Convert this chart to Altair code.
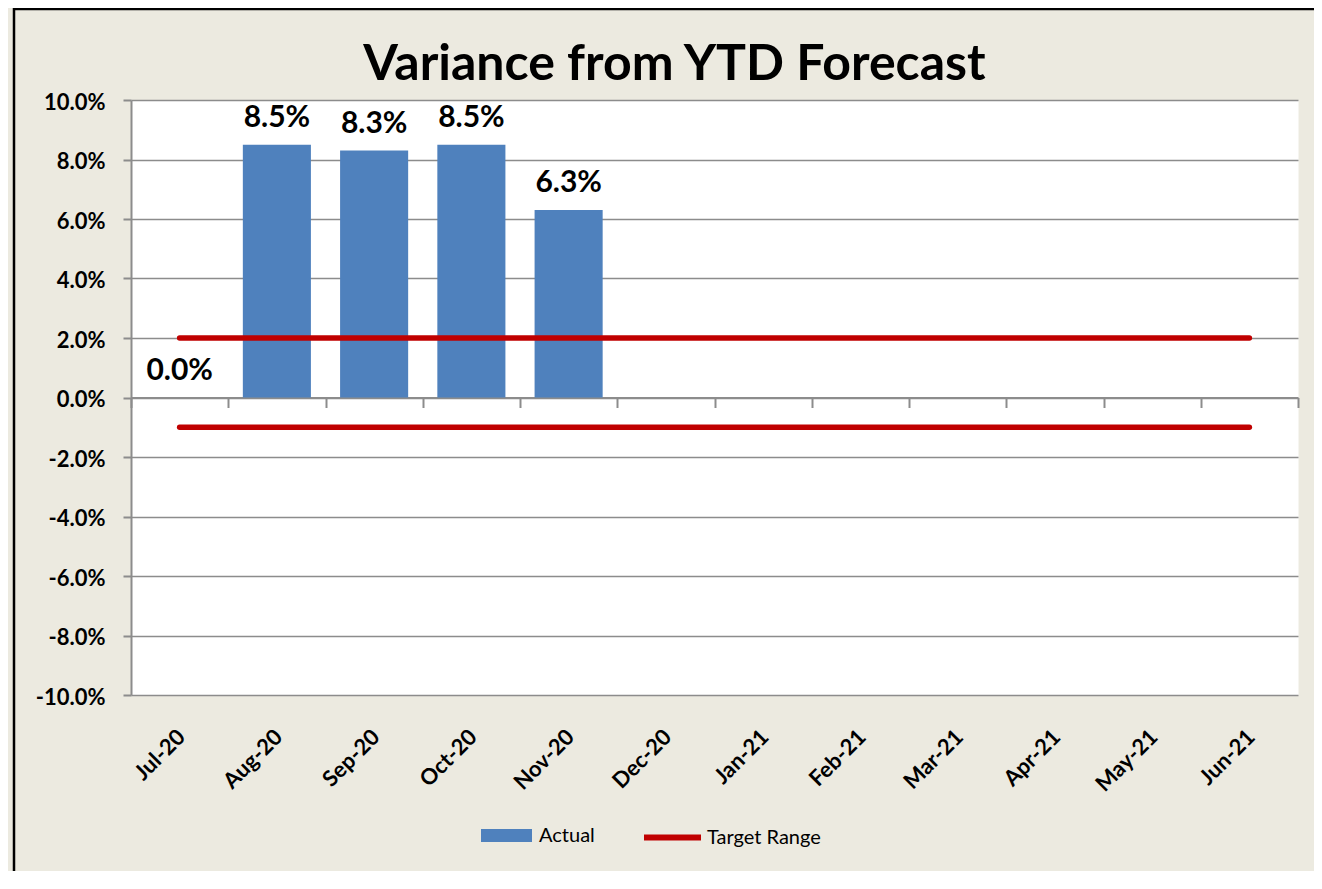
import altair as alt
import pandas as pd

# ---- data ----
months = ["Jul-20", "Aug-20", "Sep-20", "Oct-20", "Nov-20", "Dec-20",
          "Jan-21", "Feb-21", "Mar-21", "Apr-21", "May-21", "Jun-21"]
actual_months = ["Jul-20", "Aug-20", "Sep-20", "Oct-20", "Nov-20"]
actual_values = [0.000, 0.085, 0.083, 0.085, 0.063]
target_high = [0.02, 0.02, 0.02, 0.02, 0.02, 0.02, 0.02, 0.02, 0.02, 0.02, 0.02, 0.02]
target_low = [-0.01, -0.01, -0.01, -0.01, -0.01, -0.01, -0.01, -0.01, -0.01, -0.01, -0.01, -0.01]
y_ticks = [-0.10, -0.08, -0.06, -0.04, -0.02, 0.0, 0.02, 0.04, 0.06, 0.08, 0.10]

bars_df = pd.DataFrame({"month": actual_months, "value": actual_values, "series": "Actual"})
lines_df = pd.concat([
    pd.DataFrame({"month": months, "value": target_high, "bound": "high", "series": "Target Range"}),
    pd.DataFrame({"month": months, "value": target_low, "bound": "low", "series": "Target Range"}),
], ignore_index=True)

W, H = 1167, 595
GREY = "#8C8C8C"
FONT = "Lato"

xscale = alt.Scale(domain=months, paddingInner=0, paddingOuter=0)
yscale = alt.Scale(domain=[-0.10, 0.10], nice=False)
yaxis = alt.Axis(values=y_ticks, format=".1%", title=None, grid=True, gridColor=GREY,
                 gridWidth=1.6, domain=True, domainColor=GREY, domainWidth=2,
                 ticks=True, tickColor=GREY, tickWidth=2, tickSize=8,
                 labelFont=FONT, labelFontSize=22, labelFontWeight="bold",
                 labelColor="black", labelPadding=18, labelOffset=2,
                 labelExpr="replace(datum.label, '\u2212', '-')")

bars = alt.Chart(bars_df).mark_bar(color="#4F81BD", width=alt.RelativeBandSize(0.7)).encode(
    x=alt.X("month:N", scale=xscale, sort=months, title=None,
            axis=alt.Axis(orient="bottom", labelAngle=-45, labelAlign="right",
                          labelBaseline="middle", labelFont=FONT, labelFontSize=22,
                          labelFontWeight="bold", labelColor="black", labelPadding=38,
                          labelOffset=2, ticks=False, tickSize=0, domain=False,
                          grid=False, title=None)),
    y=alt.Y("value:Q", scale=yscale, axis=yaxis),
    color=alt.Color("series:N",
                    scale=alt.Scale(domain=["Actual"], range=["#4F81BD"]),
                    legend=alt.Legend(orient="none", legendX=350, legendY=710, title=None,
                                      symbolType="M-1,-0.255H1V0.255H-1Z", symbolSize=2601,
                                      symbolStrokeWidth=0, labelFont=FONT, labelFontSize=20,
                                      labelColor="black", labelOffset=7)),
)

lines = alt.Chart(lines_df).mark_line(strokeWidth=5.5, strokeCap="round").encode(
    x=alt.X("month:N", scale=xscale, sort=months, title=None,
            axis=alt.Axis(orient="bottom", offset=-H / 2, labels=False, ticks=True,
                          tickBand="extent", tickSize=10, tickColor=GREY, tickWidth=2,
                          domain=True, domainColor=GREY, domainWidth=2, grid=False,
                          title=None)),
    y=alt.Y("value:Q", scale=yscale, axis=yaxis),
    detail="bound:N",
    stroke=alt.Stroke("series:N",
                      scale=alt.Scale(domain=["Target Range"], range=["#C00000"]),
                      legend=alt.Legend(orient="none", legendX=510, legendY=706, title=None,
                                        symbolType="stroke", symbolSize=3249,
                                        symbolStrokeWidth=6, labelFont=FONT,
                                        labelFontSize=20, labelColor="black",
                                        labelOffset=3)),
)

labels = alt.Chart(bars_df).mark_text(font=FONT, fontSize=30, fontWeight="bold",
                                      color="black", baseline="alphabetic", dy=-18).encode(
    x=alt.X("month:N", scale=xscale, sort=months, axis=None),
    y=alt.Y("value:Q", scale=yscale, axis=yaxis),
    text=alt.Text("value:Q", format=".1%"),
)

frame_df = pd.DataFrame({"k": [0]})
left_border = alt.Chart(frame_df).mark_rule(color="black", strokeWidth=2.5).encode(
    x=alt.value(-117), y=alt.value(-92), y2=alt.value(H + 200))
top_border = alt.Chart(frame_df).mark_rule(color="black", strokeWidth=2.5).encode(
    x=alt.value(-118), x2=alt.value(W + 100), y=alt.value(-91))

chart = alt.layer(bars, lines, labels, left_border, top_border).resolve_axis(
    x="independent"
).properties(
    width=W, height=H,
    autosize=alt.AutoSizeParams(type="none"),
    padding={"left": 123, "top": 92, "right": 16, "bottom": 176},
    title=alt.TitleParams("Variance from YTD Forecast", font=FONT, fontSize=50,
                          fontWeight="bold", color="black", anchor="middle",
                          dx=-40, dy=132, offset=9, baseline="alphabetic"),
).configure(background="#ECEAE0").configure_view(fill="white", stroke="transparent")

chart.save("out.html", embed_options={"renderer": "svg", "actions": False})
